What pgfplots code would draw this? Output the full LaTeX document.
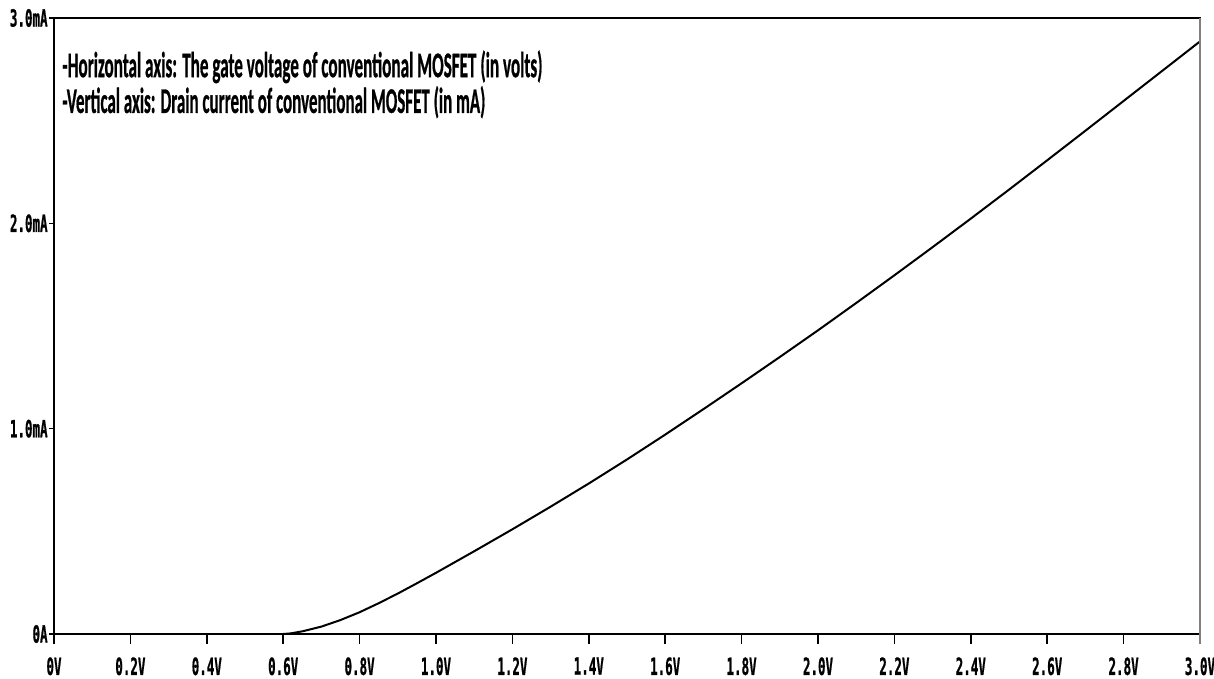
\documentclass[border=0pt]{standalone}
\usepackage{pgfplots}
\pgfplotsset{compat=1.18}
\usepackage{graphicx}
\usepackage{fontspec}
\setmainfont{Carlito}[BoldFeatures={FakeBold=1.0}]
\newfontfamily\tickfont{DejaVu Sans Mono}[BoldFeatures={FakeBold=1.2}]
\newcommand\tl[1]{\scalebox{0.53}[1]{\fontsize{11.8bp}{12bp}\selectfont\tickfont\bfseries #1}}
\begin{document}
\begin{tikzpicture}
\begin{axis}[
  scale only axis,
  width=573bp, height=308bp,
  xmin=0, xmax=3, ymin=0, ymax=3,
  axis line style={black, line width=1bp},
  tick align=outside,
  major tick length=5bp,
  tick style={black, line width=0.8bp},
  ytick style={draw=none},
  xtick={0,0.2,...,3.0},
  xticklabels={\tl{0V},\tl{0.2V},\tl{0.4V},\tl{0.6V},\tl{0.8V},\tl{1.0V},\tl{1.2V},\tl{1.4V},\tl{1.6V},\tl{1.8V},\tl{2.0V},\tl{2.2V},\tl{2.4V},\tl{2.6V},\tl{2.8V},\tl{3.0V}},
  ytick={0,1,2,3},
  yticklabels={\tl{0A},\tl{1.0mA},\tl{2.0mA},\tl{3.0mA}},
  xticklabel style={anchor=north, inner sep=0pt, yshift=-6.5bp},
  yticklabel style={anchor=east, inner sep=0pt, xshift=2bp},
  xtick pos=bottom, ytick pos=left,
  clip=false,
]
\addplot[black, line width=1bp] coordinates {
(0.60,0) (0.62,0.003) (0.65,0.013) (0.70,0.036) (0.75,0.068) (0.80,0.106)
(0.85,0.150) (0.90,0.197) (0.95,0.247) (1.00,0.298) (1.10,0.403) (1.20,0.510)
(1.30,0.620) (1.40,0.733) (1.50,0.850) (1.60,0.971) (1.70,1.095) (1.80,1.221)
(1.90,1.349) (2.00,1.479) (2.10,1.612) (2.20,1.747) (2.30,1.884) (2.40,2.023)
(2.50,2.164) (2.60,2.307) (2.70,2.451) (2.80,2.596) (2.90,2.741) (3.00,2.886)
};
\pgfplotsinvokeforeach{0,1,2,3}{
  \draw[black, line width=0.8bp] (axis cs:0,#1) -- ++(-2.5bp,0);
}
\draw[gray, line width=1.2bp] (rel axis cs:1,0) ++(0,-5bp) -- (rel axis cs:1,1);
\node[anchor=base west, inner sep=0pt] at (rel axis cs:0.007,0.904)
  {\resizebox{240bp}{\height}{\fontsize{18bp}{20bp}\selectfont\bfseries -Horizontal axis: The gate voltage of conventional MOSFET (in volts)}};
\node[anchor=base west, inner sep=0pt] at (rel axis cs:0.007,0.846)
  {\resizebox{211.5bp}{\height}{\fontsize{18bp}{20bp}\selectfont\bfseries -Vertical axis: Drain current of conventional MOSFET (in mA)}};
\end{axis}
\pgfresetboundingbox
\path[use as bounding box] ([shift={(-27bp,-22.5bp)}]current axis.south west) rectangle ([shift={(7bp,9bp)}]current axis.north east);
\end{tikzpicture}
\end{document}
